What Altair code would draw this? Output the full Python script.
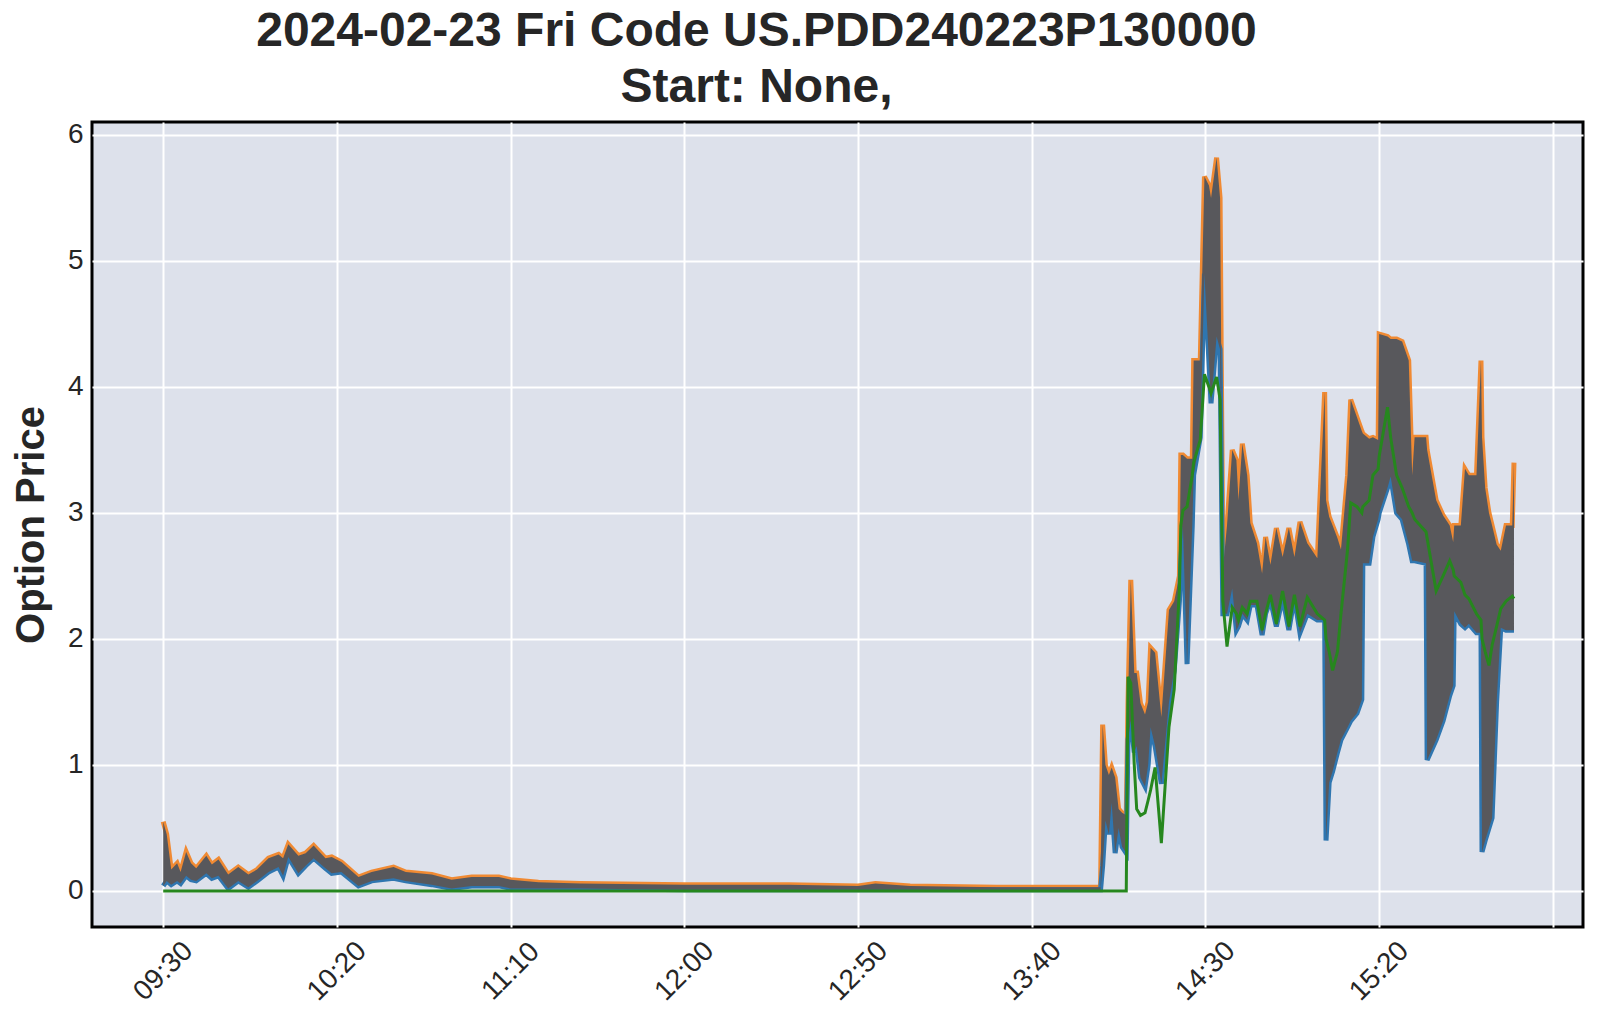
import altair as alt
import pandas as pd

TIME = [
    "09:30:00", "09:31:00", "09:32:18", "09:34:00", "09:35:00", "09:36:36", "09:38:00", "09:39:30",
    "09:42:24", "09:44:00", "09:45:54", "09:48:42", "09:51:36", "09:54:30", "09:57:00", "10:00:18",
    "10:03:12", "10:04:30", "10:06:00", "10:08:54", "10:11:00", "10:13:18", "10:16:42", "10:18:30",
    "10:21:18", "10:26:12", "10:30:00", "10:36:18", "10:39:48", "10:47:18", "10:53:00", "10:58:48",
    "11:06:36", "11:10:00", "11:18:00", "11:30:00", "12:00:00", "12:30:00", "12:50:00", "12:55:00",
    "13:05:00", "13:30:00", "13:59:48", "14:00:24", "14:01:12", "14:02:12", "14:03:00", "14:04:00",
    "14:05:00", "14:06:00", "14:07:12", "14:07:42", "14:08:30", "14:09:30", "14:10:12", "14:11:18",
    "14:12:36", "14:13:30", "14:14:12", "14:15:30", "14:17:18", "14:19:30", "14:21:00", "14:22:30",
    "14:22:54", "14:23:30", "14:24:42", "14:26:12", "14:26:36", "14:28:30", "14:29:42", "14:31:00",
    "14:31:36", "14:33:12", "14:34:12", "14:35:00", "14:36:12", "14:37:42", "14:38:54", "14:39:30",
    "14:40:36", "14:42:00", "14:42:54", "14:44:48", "14:46:18", "14:47:18", "14:48:42", "14:50:24",
    "14:52:12", "14:54:00", "14:55:36", "14:57:12", "14:59:18", "15:02:12", "15:04:18", "15:04:42",
    "15:05:36", "15:06:36", "15:08:00", "15:09:00", "15:10:54", "15:11:48", "15:13:36", "15:15:00",
    "15:15:18", "15:17:06", "15:18:12", "15:19:42", "15:20:00", "15:22:24", "15:23:18", "15:25:00",
    "15:26:36", "15:28:30", "15:29:30", "15:30:12", "15:33:30", "15:33:48", "15:36:24", "15:38:24",
    "15:40:18", "15:41:18", "15:41:36", "15:43:30", "15:44:42", "15:45:48", "15:48:00", "15:49:18",
    "15:49:36", "15:50:30", "15:51:36", "15:52:30", "15:53:48", "15:55:00", "15:56:30", "15:58:18",
    "15:58:48",
]

ASK = [
    0.55, 0.45, 0.17, 0.22, 0.15, 0.31, 0.22, 0.18,
    0.28, 0.21, 0.25, 0.13, 0.19, 0.13, 0.17, 0.26,
    0.29, 0.26, 0.37, 0.28, 0.30, 0.36, 0.26, 0.27,
    0.23, 0.11, 0.15, 0.19, 0.15, 0.13, 0.09, 0.11,
    0.11, 0.09, 0.07, 0.06, 0.05, 0.05, 0.04, 0.06,
    0.04, 0.03, 0.03, 1.32, 1.00, 0.92, 0.98, 0.90,
    0.65, 0.62, 0.60, 1.50, 2.47, 1.73, 1.73, 1.49,
    1.40, 1.50, 1.93, 1.89, 1.38, 2.23, 2.30, 2.50,
    3.46, 3.46, 3.43, 3.43, 4.21, 4.21, 5.67, 5.60,
    5.50, 5.82, 5.50, 2.55, 2.90, 3.50, 3.42, 3.10,
    3.55, 3.30, 2.92, 2.76, 2.52, 2.81, 2.59, 2.88,
    2.65, 2.88, 2.65, 2.93, 2.76, 2.64, 3.96, 3.10,
    2.97, 2.90, 2.80, 2.71, 3.30, 3.90, 3.76, 3.65,
    3.63, 3.59, 3.60, 3.58, 4.42, 4.40, 4.38, 4.38,
    4.36, 4.21, 3.30, 3.60, 3.60, 3.50, 3.10, 2.98,
    2.90, 2.77, 2.90, 2.90, 3.35, 3.30, 3.30, 4.21,
    3.60, 3.20, 3.00, 2.90, 2.75, 2.70, 2.90, 2.90,
    3.40,
]

BID = [
    0.04, 0.08, 0.05, 0.08, 0.06, 0.12, 0.09, 0.08,
    0.14, 0.10, 0.12, 0.02, 0.08, 0.03, 0.08, 0.15,
    0.19, 0.12, 0.27, 0.14, 0.20, 0.26, 0.18, 0.14,
    0.15, 0.04, 0.08, 0.10, 0.08, 0.05, 0.02, 0.04,
    0.04, 0.02, 0.02, 0.02, 0.01, 0.01, 0.01, 0.01,
    0.01, 0.01, 0.01, 0.20, 0.56, 0.45, 0.70, 0.30,
    0.50, 0.35, 0.30, 1.20, 1.35, 1.10, 1.15, 0.90,
    0.83, 1.00, 1.30, 1.15, 0.85, 1.50, 1.75, 2.30,
    2.60, 2.90, 1.80, 2.90, 3.30, 3.60, 4.90, 4.20,
    3.87, 4.40, 4.30, 2.20, 2.20, 2.40, 2.07, 2.10,
    2.20, 2.15, 2.27, 2.27, 2.03, 2.20, 2.31, 2.10,
    2.33, 2.07, 2.33, 2.05, 2.20, 2.15, 2.15, 0.40,
    0.86, 0.95, 1.10, 1.20, 1.30, 1.35, 1.41, 1.52,
    2.60, 2.60, 2.81, 2.95, 3.00, 3.20, 3.29, 3.00,
    2.95, 2.75, 2.62, 2.62, 2.60, 1.04, 1.20, 1.35,
    1.55, 1.63, 2.22, 2.12, 2.09, 2.12, 2.05, 2.05,
    0.31, 0.40, 0.50, 0.58, 1.50, 2.09, 2.07, 2.07,
    2.07,
]

LAST = [
    0.0, 0.0, 0.0, 0.0, 0.0, 0.0, 0.0, 0.0,
    0.0, 0.0, 0.0, 0.0, 0.0, 0.0, 0.0, 0.0,
    0.0, 0.0, 0.0, 0.0, 0.0, 0.0, 0.0, 0.0,
    0.0, 0.0, 0.0, 0.0, 0.0, 0.0, 0.0, 0.0,
    0.0, 0.0, 0.0, 0.0, 0.0, 0.0, 0.0, 0.0,
    0.0, 0.0, 0.0, 0.0, 0.0, 0.0, 0.0, 0.0,
    0.0, 0.0, 0.0, 1.70, 1.65, 1.00, 0.65, 0.60,
    0.62, 0.72, 0.80, 0.98, 0.38, 1.30, 1.60, 2.40,
    2.90, 3.02, 3.05, 3.30, 3.40, 3.58, 4.10, 4.00,
    3.95, 4.08, 3.90, 2.30, 1.94, 2.25, 2.20, 2.15,
    2.25, 2.20, 2.30, 2.30, 2.07, 2.20, 2.35, 2.12,
    2.38, 2.10, 2.35, 2.10, 2.33, 2.20, 2.15, 2.00,
    1.90, 1.75, 1.90, 2.20, 2.71, 3.08, 3.05, 3.00,
    3.05, 3.10, 3.30, 3.35, 3.45, 3.84, 3.60, 3.30,
    3.20, 3.05, 3.00, 2.95, 2.85, 2.80, 2.38, 2.50,
    2.62, 2.55, 2.50, 2.45, 2.35, 2.32, 2.20, 2.15,
    2.00, 1.90, 1.79, 1.95, 2.10, 2.24, 2.30, 2.34,
    2.32,
]

TITLE_LINES = ["2024-02-23 Fri Code US.PDD240223P130000", "Start: None,"]
TICK_TIMES = [(9, 30), (10, 20), (11, 10), (12, 0), (12, 50), (13, 40), (14, 30), (15, 20), (16, 10)]
Y_TICKS = [0, 1, 2, 3, 4, 5, 6]

df = pd.DataFrame({
    "time": ["2024-02-23T" + t for t in TIME],
    "ask": ASK,
    "bid": BID,
    "last": LAST,
})


def dt(h, m, s=0):
    return alt.DateTime(year=2024, month=2, date=23, hours=h, minutes=m, seconds=s)


FONT = "Liberation Sans"
TXT = "#262626"

x_enc = alt.X(
    "time:T",
    title=None,
    scale=alt.Scale(domain=[dt(9, 9, 30), dt(16, 18, 40)]),
    axis=alt.Axis(
        values=[dt(h, m) for h, m in TICK_TIMES],
        labelExpr="timeFormat(datum.value, '%H:%M') == '16:10' ? '' : timeFormat(datum.value, '%H:%M')",
        labelAngle=-45,
        labelAlign="center",
        labelBaseline="middle",
        labelPadding=44,
        labelOverlap=False,
        labelFlush=False,
    ),
)

y_scale = alt.Scale(domain=[-0.286, 6.103], nice=False, zero=False)
y_axis = alt.Axis(values=Y_TICKS, labelPadding=9, titlePadding=16)

base = alt.Chart(df)

ask_line = base.mark_line(color="#f08a33", strokeWidth=5, clip=True).encode(
    x=x_enc, y=alt.Y("ask:Q", title="Option Price", scale=y_scale, axis=y_axis)
)
bid_line = base.mark_line(color="#2f76b0", strokeWidth=5, clip=True).encode(
    x=x_enc, y=alt.Y("bid:Q", title="Option Price", scale=y_scale, axis=y_axis)
)
band = base.mark_area(color="#58585c", opacity=1, clip=True).encode(
    x=x_enc,
    y=alt.Y("bid:Q", title="Option Price", scale=y_scale, axis=y_axis),
    y2=alt.Y2("ask:Q"),
)
last_line = base.mark_line(color="#26871e", strokeWidth=3, clip=True).encode(
    x=x_enc, y=alt.Y("last:Q", title="Option Price", scale=y_scale, axis=y_axis)
)

chart = (
    alt.layer(ask_line, bid_line, band, last_line)
    .properties(
        width=1491,
        height=805,
        background="white",
        padding={"left": 11, "top": 7, "right": 5, "bottom": 5},
        title=alt.TitleParams(
            TITLE_LINES,
            fontSize=48,
            fontWeight="bold",
            font=FONT,
            color=TXT,
            lineHeight=56,
            anchor="middle",
            dx=-81,
            offset=9,
        ),
    )
    .configure_view(fill="#dde1eb", stroke="black", strokeWidth=3)
    .configure_axis(
        domain=False,
        ticks=False,
        grid=True,
        gridColor="white",
        gridWidth=2,
        gridOpacity=1,
        labelFont=FONT,
        labelFontSize=28,
        labelColor=TXT,
        titleFont=FONT,
        titleFontSize=40,
        titleFontWeight="bold",
        titleColor=TXT,
    )
)

chart.save("out.html", embed_options={"renderer": "svg", "actions": False})
